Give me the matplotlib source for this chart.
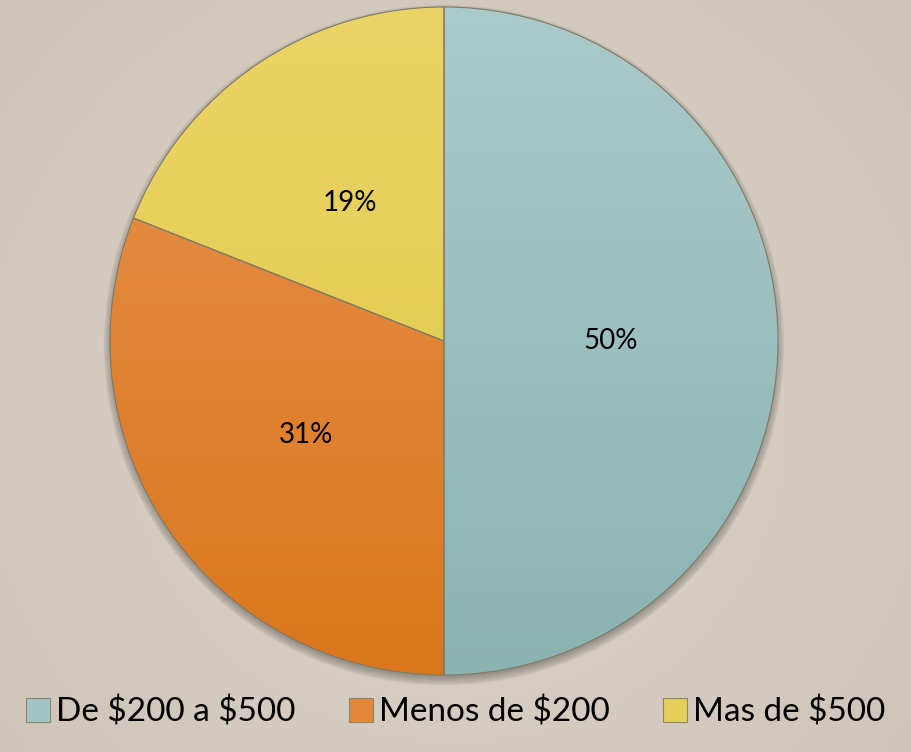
import numpy as np
import matplotlib.pyplot as plt
from matplotlib.patches import Patch
from matplotlib.colors import to_rgb

plt.rcParams['font.family'] = ['Lato', 'DejaVu Sans']

# Datos
categorias = ['De \\$200 a \\$500', 'Menos de \\$200', 'Mas de \\$500']
valores = [50, 31, 19]
colores = ['#a3c4c4', '#e2873a', '#e6cf58']
colores_top = ['#abcaca', '#e6924f', '#ead466']
colores_bot = ['#8bb3b2', '#da771c', '#e1c845']

fig = plt.figure(figsize=(9.12, 7.52), dpi=100)

# Fondo con gradiente radial
bg = fig.add_axes([0, 0, 1, 1])
bg.set_axis_off()
yy, xx = np.mgrid[0:1:300j, 0:1:300j]
r = np.sqrt(((xx - 0.5) * 1.2) ** 2 + ((yy - 0.45) * 1.0) ** 2)
r = np.clip(r / 0.75, 0, 1)
c_in = np.array([0.87, 0.84, 0.80])
c_out = np.array([0.81, 0.77, 0.72])
img = c_in[None, None, :] * (1 - r[..., None]) + c_out[None, None, :] * r[..., None]
bg.imshow(img, extent=[0, 1, 0, 1], aspect='auto', origin='lower')
bg.set_xlim(0, 1)
bg.set_ylim(0, 1)

cx, cy, rad = 444, 341, 334
W, H = 912, 752
ax = fig.add_axes([(cx - rad) / W, (H - cy - rad) / H, 2 * rad / W, 2 * rad / H])

# Sombra
for k in range(10):
    s = plt.Circle((0.0, -0.012), 0.99 + 0.003 * k, color='black', alpha=0.03, zorder=0,
                   clip_on=False)
    ax.add_patch(s)

wedges, texts, autotexts = ax.pie(valores, colors=colores, startangle=90, counterclock=False,
                                  autopct='%1.0f%%', pctdistance=0.5,
                                  wedgeprops=dict(edgecolor='#7d7a68', linewidth=0.8),
                                  textprops=dict(fontsize=20, color='black'))

# Gradiente vertical en cada sector
for w, ct, cb in zip(wedges, colores_top, colores_bot):
    t = np.linspace(0, 1, 256)[:, None]
    c1 = np.array(to_rgb(cb))
    c2 = np.array(to_rgb(ct))
    g = c1[None, None, :] * (1 - t[..., None]) + c2[None, None, :] * t[..., None]
    g = np.repeat(g, 2, axis=1)
    im = ax.imshow(g, extent=[-1, 1, -1, 1], origin='lower', aspect='auto', zorder=1.5)
    im.set_clip_path(w)
    w.set_facecolor('none')
    w.set_zorder(2)

for t_ in autotexts:
    t_.set_zorder(3)

ax.set_xlim(-1.0, 1.0)
ax.set_ylim(-1.0, 1.0)
ax.set_aspect('equal')
ax.set_axis_off()

handles = [Patch(facecolor=c, edgecolor='#8a8470', linewidth=0.8) for c in colores]
fig.legend(handles, categorias, loc='center', bbox_to_anchor=(0.5, (H - 712) / H), ncol=3,
           frameon=False, fontsize=24, handlelength=0.7, handleheight=0.7,
           handletextpad=0.2, columnspacing=1.6)

fig.savefig('out.png', dpi=100)
